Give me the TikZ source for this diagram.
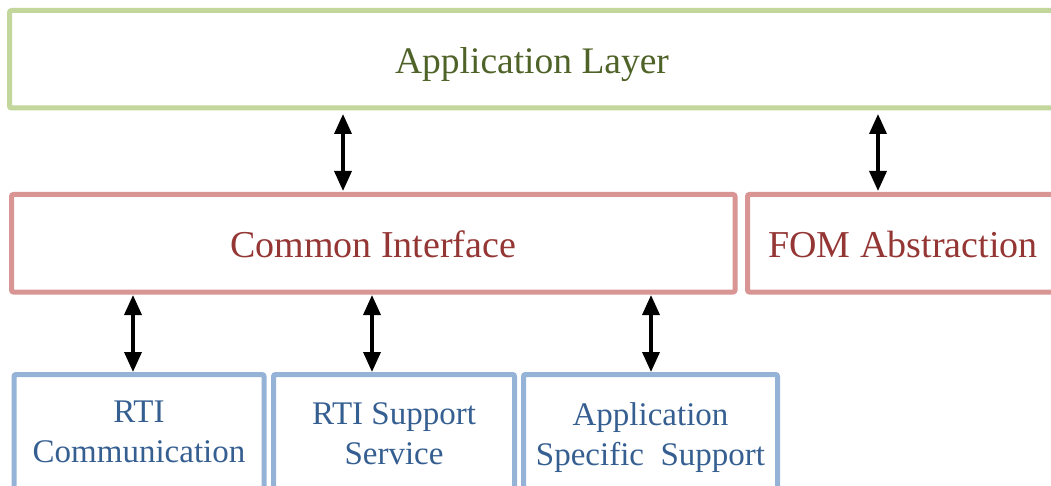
\documentclass[tikz,border=0pt]{standalone}
\usepackage{fontspec}
\setmainfont{Liberation Serif}
\usetikzlibrary{arrows.meta}
\definecolor{gstroke}{HTML}{C3D69B}
\definecolor{gtext}{HTML}{4F6228}
\definecolor{rstroke}{HTML}{D99594}
\definecolor{rtext}{HTML}{943634}
\definecolor{bstroke}{HTML}{95B3D7}
\definecolor{btext}{HTML}{365F91}
\tikzset{
  box/.style={draw, line width=5pt, rounded corners=2pt, inner sep=0pt, align=center},
  greenbox/.style={box, draw=gstroke, text=gtext, font=\fontsize{37.5}{40}\selectfont, text height=29.5pt, text depth=0pt},
  redbox/.style={box, draw=rstroke, text=rtext, font=\fontsize{38}{40}\selectfont, text height=29.5pt, text depth=0pt},
  bluebox/.style={box, draw=bstroke, text=btext, font=\fontsize{33}{40}\selectfont},
  arr/.style={line width=3.5pt, {Triangle[width=17pt,length=20pt]}-{Triangle[width=17pt,length=20pt]}}
}
\begin{document}
\begin{tikzpicture}[x=1pt,y=-1pt]
\useasboundingbox (0,0) rectangle (1051,486);
\clip (0,0) rectangle (1051,486);
\node[greenbox, minimum width=1045pt, minimum height=97.5pt] (app) at (532,59.25) {Application Layer};
\node[redbox, minimum width=723.5pt, minimum height=97.5pt] (ci) at (373.25,243.25) {Common Interface};
\node[redbox, minimum width=311pt, minimum height=97.5pt] (fom) at (903,243.25) {FOM Abstraction};
\node[bluebox, minimum width=250pt, minimum height=114.5pt] (rti) at (139,431.75) {RTI\\Communication};
\node[bluebox, minimum width=241pt, minimum height=118.5pt] (rss) at (394,433.75) {RTI Support\\Service};
\node[bluebox, minimum width=254pt, minimum height=126.5pt] (ass) at (650.5,437.75) {Application\\Specific\ \ Support};
\coordinate (x1) at (343,0);
\coordinate (x2) at (878,0);
\coordinate (x3) at (133,0);
\coordinate (x4) at (372,0);
\coordinate (x5) at (651,0);
\draw[arr, shorten <=3.5pt, shorten >=1pt] (app.south -| x1) -- (ci.north -| x1);
\draw[arr, shorten <=3.5pt, shorten >=1pt] (app.south -| x2) -- (fom.north -| x2);
\draw[arr, shorten <=0.5pt, shorten >=0pt] (ci.south -| x3) -- (rti.north -| x3);
\draw[arr, shorten <=0.5pt, shorten >=0pt] (ci.south -| x4) -- (rss.north -| x4);
\draw[arr, shorten <=0.5pt, shorten >=0pt] (ci.south -| x5) -- (ass.north -| x5);
\end{tikzpicture}
\end{document}
